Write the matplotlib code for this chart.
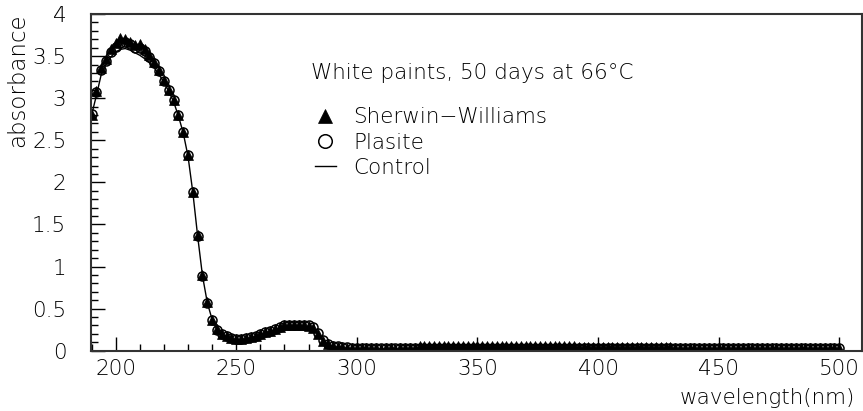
import numpy as np
import matplotlib
matplotlib.use("Agg")
import matplotlib.pyplot as plt
from matplotlib.ticker import MultipleLocator

# wavelength grid of the scans (nm), 2 nm steps
wavelength = np.arange(190, 501, 2)

# Sherwin-Williams (filled triangles)
sw_uv = [2.80, 3.08, 3.36, 3.47, 3.58, 3.66, 3.72, 3.70, 3.67, 3.63, 3.64, 3.58, 3.51, 3.43,
         3.33, 3.22, 3.10, 2.98, 2.80, 2.60, 2.32, 1.89, 1.37, 0.90, 0.58, 0.37, 0.26]
sw_mid = [0.20, 0.17, 0.15, 0.14, 0.14, 0.15, 0.16, 0.18, 0.20, 0.22, 0.24, 0.26, 0.28, 0.30,
          0.31, 0.31, 0.30, 0.30, 0.29, 0.27, 0.20, 0.12, 0.08, 0.05, 0.04, 0.04, 0.03, 0.03, 0.03]
sw_tail = [0.03, 0.03, 0.03, 0.03, 0.02, 0.03, 0.03, 0.02, 0.03, 0.03, 0.03, 0.03,
           0.06, 0.06, 0.06, 0.06, 0.06, 0.06, 0.06, 0.06, 0.06, 0.06, 0.06, 0.06, 0.06, 0.06,
           0.06, 0.06, 0.06, 0.06, 0.06, 0.06, 0.06, 0.05, 0.05, 0.05, 0.05, 0.05, 0.05, 0.05,
           0.05, 0.05, 0.05, 0.05, 0.05,
           0.04, 0.04, 0.04, 0.04, 0.04, 0.04, 0.04, 0.04, 0.04, 0.04, 0.04, 0.04, 0.04, 0.04,
           0.04, 0.04, 0.04, 0.04, 0.04, 0.04, 0.03, 0.03, 0.03, 0.03, 0.03, 0.03, 0.03, 0.03,
           0.03, 0.03, 0.03, 0.03, 0.03, 0.03, 0.03, 0.03, 0.03, 0.03, 0.03, 0.03, 0.03, 0.03,
           0.03, 0.03, 0.03, 0.03, 0.03, 0.03, 0.03, 0.03, 0.03, 0.03, 0.03, 0.03, 0.03]

# Plasite (open circles)
pl_uv = [2.81, 3.07, 3.34, 3.44, 3.55, 3.61, 3.66, 3.67, 3.64, 3.60, 3.60, 3.56, 3.49, 3.42,
         3.32, 3.21, 3.10, 2.98, 2.80, 2.60, 2.32, 1.88, 1.36, 0.89, 0.57, 0.37, 0.25]
pl_mid = [0.20, 0.17, 0.15, 0.14, 0.14, 0.15, 0.16, 0.18, 0.20, 0.22, 0.24, 0.26, 0.28, 0.30,
          0.31, 0.31, 0.31, 0.30, 0.30, 0.28, 0.21, 0.13, 0.08, 0.06, 0.05, 0.04, 0.04, 0.03, 0.03]
pl_tail = [0.03, 0.03, 0.03, 0.03, 0.03, 0.03, 0.03, 0.03, 0.03, 0.03, 0.03, 0.03, 0.03, 0.03,
           0.03, 0.03, 0.03, 0.03, 0.03, 0.03, 0.03, 0.03, 0.03, 0.03, 0.03, 0.03, 0.03, 0.03,
           0.03, 0.03, 0.03, 0.03, 0.03, 0.03, 0.03, 0.03, 0.03, 0.03, 0.03, 0.03, 0.03, 0.03,
           0.03, 0.03, 0.03, 0.03, 0.03, 0.03, 0.03, 0.03, 0.03, 0.03, 0.03, 0.03, 0.03, 0.03,
           0.03, 0.03, 0.03, 0.03, 0.03, 0.03, 0.03, 0.03, 0.03, 0.03, 0.03, 0.03, 0.03, 0.03,
           0.03, 0.03, 0.03, 0.03, 0.03, 0.03, 0.03, 0.03, 0.03, 0.03, 0.03, 0.03, 0.03, 0.03,
           0.03, 0.03, 0.03, 0.03, 0.03, 0.03, 0.03, 0.03, 0.03, 0.03, 0.03, 0.03, 0.03, 0.03,
           0.03, 0.03]

# Control (solid line)
ct_uv = [2.80, 3.03, 3.28, 3.40, 3.49, 3.55, 3.58, 3.59, 3.57, 3.54, 3.51, 3.47, 3.42, 3.36,
         3.28, 3.19, 3.08, 2.96, 2.79, 2.59, 2.31, 1.88, 1.36, 0.89, 0.57, 0.37, 0.25]
ct_mid = [0.19, 0.16, 0.14, 0.13, 0.13, 0.14, 0.15, 0.17, 0.19, 0.21, 0.23, 0.25, 0.27, 0.29,
          0.30, 0.30, 0.30, 0.29, 0.28, 0.26, 0.19, 0.12, 0.07, 0.05, 0.04, 0.03, 0.03, 0.02, 0.02]
ct_tail = [0.02] * 100

sherwin = np.array(sw_uv + sw_mid + sw_tail)
plasite = np.array(pl_uv + pl_mid + pl_tail)
control = np.array(ct_uv + ct_mid + ct_tail)

plt.rcParams['font.family'] = ['DejaVu Sans']
plt.rcParams['font.weight'] = 'light'
FS = 15.5

fig = plt.figure(figsize=(8.63, 4.11), dpi=100)
ax = fig.add_axes([0.1058, 0.1467, 0.8926, 0.8192])

ax.plot(wavelength, plasite, linestyle='none', marker='o', markersize=6.5,
        markerfacecolor='none', markeredgecolor='black', markeredgewidth=1.1, label='Plasite')
ax.plot(wavelength, sherwin, linestyle='none', marker='^', markersize=6.5,
        color='black', markeredgewidth=0.5, label='Sherwin\u2212Williams')
ax.plot(wavelength, control, color='black', linewidth=1.0, label='Control')

ax.set_xlim(189.9, 509.3)
ax.set_ylim(0, 4)

ax.xaxis.set_major_locator(MultipleLocator(50))
ax.xaxis.set_minor_locator(MultipleLocator(10))
ax.yaxis.set_major_locator(MultipleLocator(0.5))
ax.yaxis.set_minor_locator(MultipleLocator(0.1))
ax.yaxis.set_major_formatter(plt.FuncFormatter(lambda v, p: f'{v:g}'))

ax.tick_params(axis='both', which='both', direction='in', top=False, right=False,
               labelsize=FS, width=1.0, color='black')
ax.tick_params(axis='x', which='major', length=10, pad=6)
ax.tick_params(axis='x', which='minor', length=5)
ax.tick_params(axis='y', which='major', length=10, pad=18)
ax.tick_params(axis='y', which='minor', length=5)

for s in ax.spines.values():
    s.set_linewidth(1.5)
    s.set_color('#333333')

fig.text(0.021, 0.968, 'absorbance', rotation=90, ha='center', va='top', fontsize=16.5)
fig.text(0.991, 0.032, 'wavelength(nm)', ha='right', va='center', fontsize=FS)

ax.text(0.494, 0.825, 'White paints, 50 days at 66\u00b0C', transform=ax.transAxes,
        ha='center', va='center', fontsize=FS)

h, l = ax.get_legend_handles_labels()
order = [1, 0, 2]
ax.legend([h[i] for i in order], [l[i] for i in order], loc='upper left',
          bbox_to_anchor=(0.276, 0.755), frameon=False, fontsize=FS, numpoints=1,
          markerscale=1.5, handlelength=1.0, handletextpad=0.8, labelspacing=0.25,
          borderpad=0)

fig.savefig('out.png', dpi=100)
